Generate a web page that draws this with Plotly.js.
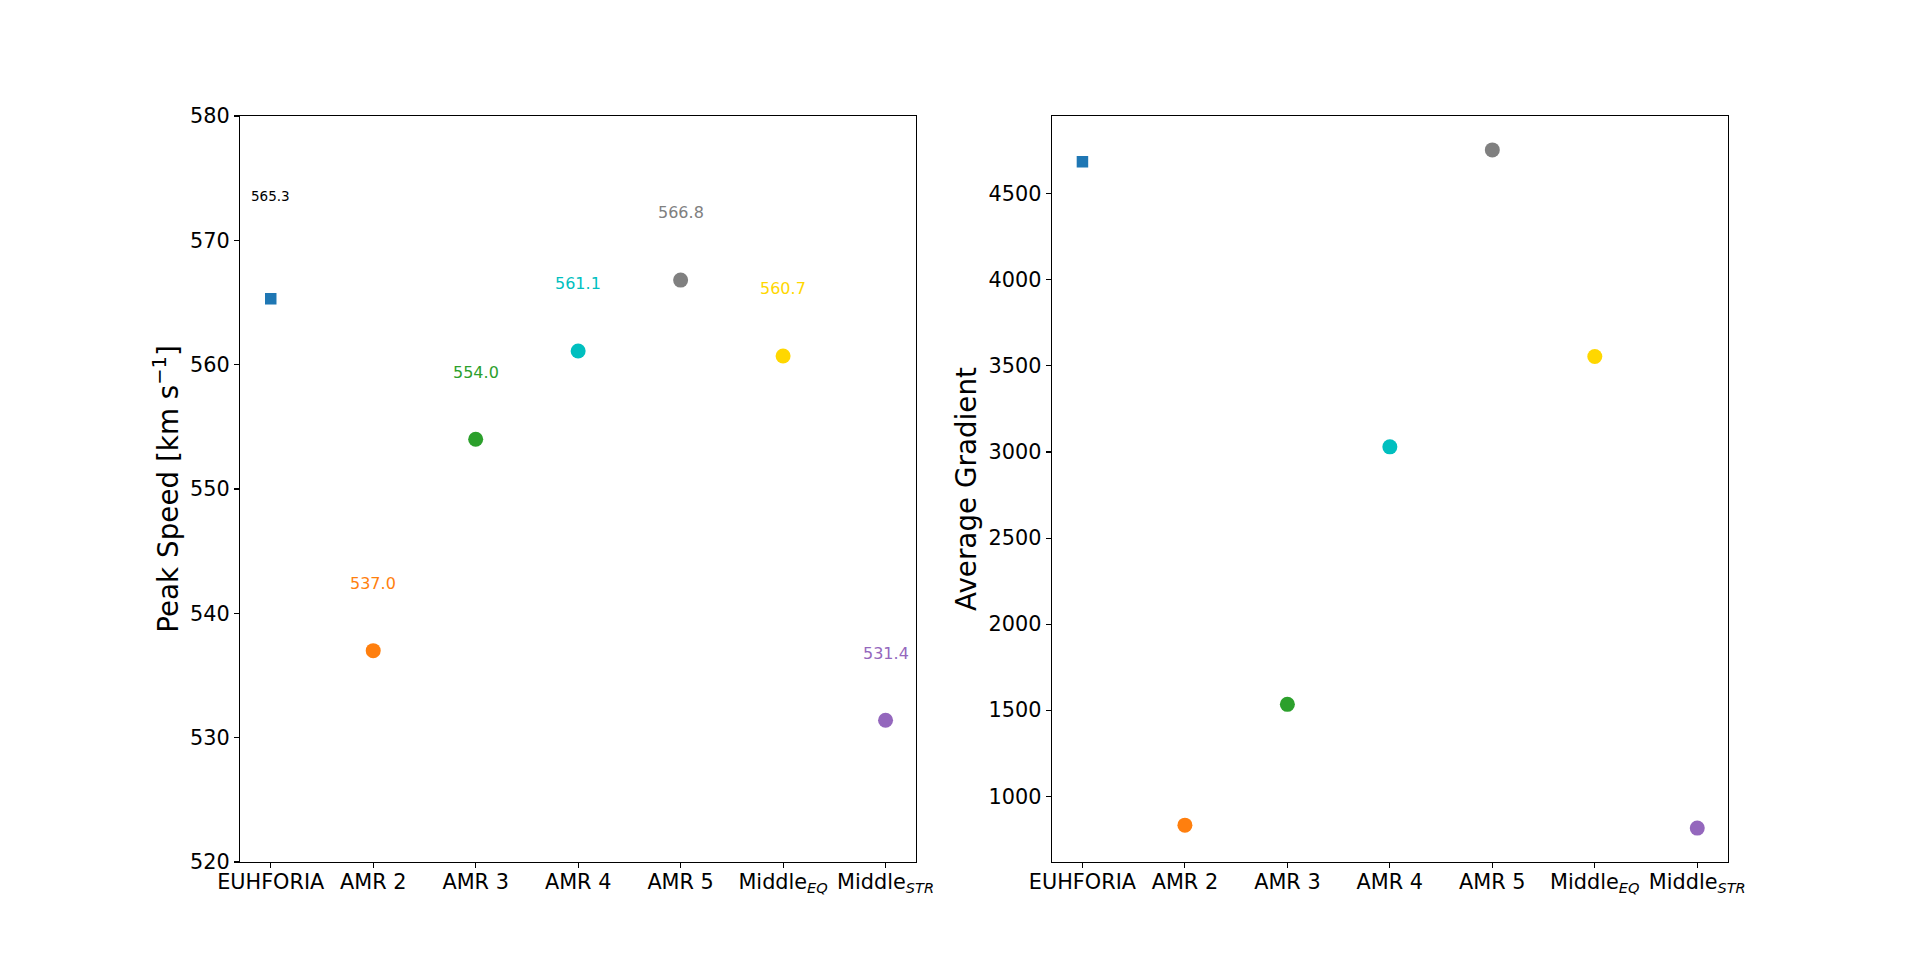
<!DOCTYPE html>
<html>
<head>
<meta charset="utf-8">
<script src="https://cdn.plot.ly/plotly-3.0.1.min.js"></script>
<style>
  html, body { margin: 0; padding: 0; background: #fff; }
  #chart { width: 1920px; height: 969px; }
</style>
</head>
<body>
<div id="chart"></div>
<script>
// ── Data ────────────────────────────────────────────────────────────────
const categories = ['EUHFORIA', 'AMR 2', 'AMR 3', 'AMR 4', 'AMR 5',
                    'Middle<sub><i>EQ</i></sub>', 'Middle<sub><i>STR</i></sub>'];
const peakSpeed   = [565.3, 537.0, 554.0, 561.1, 566.8, 560.7, 531.4];
const avgGradient = [4686, 832, 1534, 3030, 4755, 3555, 815];

// ── Styles ──────────────────────────────────────────────────────────────
const colors  = ['#1f77b4', '#ff7f0e', '#2ca02c', '#00bfbf', '#808080', '#ffd700', '#9467bd'];
const symbols = ['square', 'circle', 'circle', 'circle', 'circle', 'circle', 'circle'];
const sizes   = [11.5, 15, 15, 15, 15, 15, 15];
const labelColors = ['#000000', '#ff7f0e', '#2ca02c', '#00bfbf', '#808080', '#ffd700', '#9467bd'];
const labelSizes  = [13.5, 16, 16, 16, 16, 16, 16];
const labelOffset = [8.3, 5.4, 5.4, 5.4, 5.4, 5.4, 5.4];

const FONT = 'DejaVu Sans, sans-serif';
const TICK = 20.8, LABEL = 27.8;

// array sizes would make plotly default to 0.7 opacity, so force 1
const markerStyle = { color: colors, symbol: symbols, size: sizes, opacity: 1, line: { width: 0 } };

const traces = [
    { type: 'scatter', mode: 'markers', x: categories, y: peakSpeed, marker: markerStyle,
      xaxis: 'x', yaxis: 'y', hoverinfo: 'none', showlegend: false },
    { type: 'scatter', mode: 'markers', x: categories, y: avgGradient, marker: markerStyle,
      xaxis: 'x2', yaxis: 'y2', hoverinfo: 'none', showlegend: false }
];

// value labels above each point in the left panel
const annotations = peakSpeed.map((v, i) => ({
    xref: 'x', yref: 'y', x: categories[i], y: v + labelOffset[i],
    text: v.toFixed(1), showarrow: false, xanchor: 'center', yanchor: 'middle',
    font: { family: FONT, size: labelSizes[i], color: labelColors[i] }
}));

// matplotlib-style 5% autoscale margin for the right panel
const gMin = Math.min(...avgGradient), gMax = Math.max(...avgGradient);
const gPad = 0.05 * (gMax - gMin);

const axBase = {
    showline: true, mirror: true, linecolor: '#000', linewidth: 1.1,
    ticks: 'outside', ticklen: 5, tickwidth: 1.1, tickcolor: '#000',
    showgrid: false, zeroline: false,
    tickfont: { family: FONT, size: TICK, color: '#000' }
};

const layout = {
    width: 1920, height: 969,
    margin: { l: 240, r: 192, t: 116, b: 107 },
    paper_bgcolor: '#fff', plot_bgcolor: '#fff',
    font: { family: FONT, color: '#000' },
    showlegend: false,
    xaxis:  Object.assign({}, axBase, { domain: [0, 0.4545], type: 'category', range: [-0.3, 6.3], anchor: 'y', ticklabelstandoff: -4 }),
    xaxis2: Object.assign({}, axBase, { domain: [0.5455, 1], type: 'category', range: [-0.3, 6.3], anchor: 'y2', ticklabelstandoff: -4 }),
    yaxis:  Object.assign({}, axBase, {
        range: [520, 580], tick0: 520, dtick: 10, anchor: 'x',
        title: { text: 'Peak Speed [km s<sup>−1</sup>]', font: { family: FONT, size: LABEL, color: '#000' }, standoff: 3 }
    }),
    yaxis2: Object.assign({}, axBase, {
        range: [gMin - gPad, gMax + gPad], tick0: 1000, dtick: 500, anchor: 'x2',
        title: { text: 'Average Gradient', font: { family: FONT, size: LABEL, color: '#000' }, standoff: 3 }
    }),
    annotations: annotations
};

Plotly.newPlot('chart', traces, layout, { displayModeBar: false, staticPlot: true });
</script>
</body>
</html>
